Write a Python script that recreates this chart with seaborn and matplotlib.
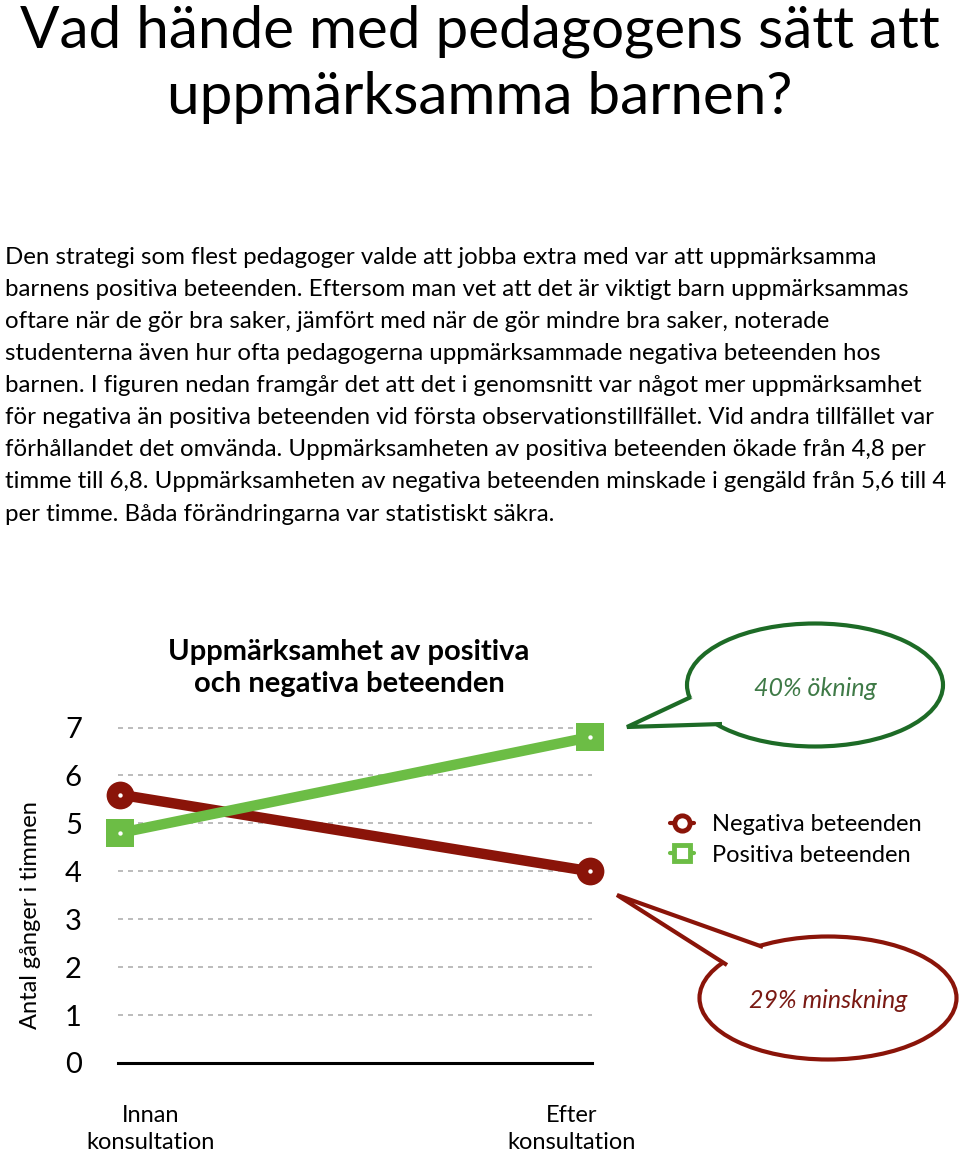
import numpy as np
import pandas as pd
import seaborn as sns
import matplotlib.pyplot as plt
from matplotlib.lines import Line2D
from matplotlib.patches import Ellipse, Polygon
from matplotlib.transforms import ScaledTranslation

# data
tillfallen = ["Innan\nkonsultation", "Efter\nkonsultation"]
negativa = [5.6, 4.0]
positiva = [4.8, 6.8]
serier = ["Negativa beteenden", "Positiva beteenden"]
y_ticks = [0, 1, 2, 3, 4, 5, 6, 7]

RED = "#8a1409"
GREEN = "#6cbd45"
DARKGREEN = "#1d6b26"

sns.set_style("white")
plt.rcParams['font.family'] = ['Lato', 'DejaVu Sans']
plt.rcParams['text.color'] = "black"
plt.rcParams['xtick.color'] = "black"
plt.rcParams['ytick.color'] = "black"
plt.rcParams['axes.labelcolor'] = "black"

df = pd.DataFrame({
    "x": [0, 1, 0, 1],
    "value": negativa + positiva,
    "serie": [serier[0]] * 2 + [serier[1]] * 2,
})

fig = plt.figure(figsize=(9.6, 11.55), dpi=100)
ax = fig.add_axes([0.1229, 0.0797, 0.4938, 0.2987])

for y in y_ticks[1:]:
    ax.axhline(y, color="#b0b0b0", lw=1.2, ls=(0, (3, 3)), zorder=0)

sns.lineplot(data=df, x="x", y="value", hue="serie", style="serie",
             palette={serier[0]: RED, serier[1]: GREEN},
             markers={serier[0]: "o", serier[1]: "s"}, dashes=False,
             linewidth=7.5, markersize=20, markeredgewidth=0,
             legend=False, ax=ax, clip_on=False, zorder=3)
sns.scatterplot(x=df["x"], y=df["value"], color="white", s=10,
                linewidth=0, ax=ax, zorder=5, clip_on=False, legend=False)

ax.set_xlim(-0.004, 1.004)
ax.set_ylim(0, 7.2)
ax.set_yticks(y_ticks)
ax.set_yticklabels([str(t) for t in y_ticks], fontsize=21)
ax.set_xticks([0, 1])
ax.set_xticklabels(tillfallen, fontsize=17, linespacing=1.35)
ax.tick_params(axis="both", length=0)
ax.tick_params(axis="y", pad=26)
ax.tick_params(axis="x", pad=30)
for lab, dx in zip(ax.get_xticklabels(), [0.31, -0.19]):
    lab.set_transform(lab.get_transform() + ScaledTranslation(dx, 0, fig.dpi_scale_trans))
for s in ["top", "right", "left"]:
    ax.spines[s].set_visible(False)
ax.spines["bottom"].set_linewidth(2.2)
ax.spines["bottom"].set_color("black")
ax.set_xlabel("")
ax.set_ylabel("Antal gånger i timmen", fontsize=17)
ax.yaxis.set_label_coords(-0.163, 0.43)

# chart title
fig.text(349 / 960, 1 - 668 / 1155, "Uppmärksamhet av positiva\noch negativa beteenden",
         ha="center", va="center", fontsize=21, fontweight="bold", linespacing=1.25)

# page title and paragraph
fig.text(0.5, 1 - 64 / 1155, "Vad hände med pedagogens sätt att\nuppmärksamma barnen?",
         ha="center", va="center", fontsize=42, linespacing=1.3)

paragraf = [
    "Den strategi som flest pedagoger valde att jobba extra med var att uppmärksamma",
    "barnens positiva beteenden. Eftersom man vet att det är viktigt barn uppmärksammas",
    "oftare när de gör bra saker, jämfört med när de gör mindre bra saker, noterade",
    "studenterna även hur ofta pedagogerna uppmärksammade negativa beteenden hos",
    "barnen. I figuren nedan framgår det att det i genomsnitt var något mer uppmärksamhet",
    "för negativa än positiva beteenden vid första observationstillfället. Vid andra tillfället var",
    "förhållandet det omvända. Uppmärksamheten av positiva beteenden ökade från 4,8 per",
    "timme till 6,8. Uppmärksamheten av negativa beteenden minskade i gengäld från 5,6 till 4",
    "per timme. Båda förändringarna var statistiskt säkra.",
]
for i, rad in enumerate(paragraf):
    fig.text(5 / 960, 1 - (258 + i * 32) / 1155, rad, ha="left", va="center",
             fontsize=17.3)

# legend
handles = [
    Line2D([], [], color=RED, lw=3, marker="o", markersize=11,
           markerfacecolor="white", markeredgecolor=RED, markeredgewidth=3.5),
    Line2D([], [], color=GREEN, lw=3, marker="s", markersize=11,
           markerfacecolor="white", markeredgecolor=GREEN, markeredgewidth=3.5),
]
fig.legend(handles, serier, loc="center left", bbox_to_anchor=(670 / 960, 1 - 840 / 1155),
           frameon=False, handlelength=1.0, handletextpad=0.8, borderpad=0,
           borderaxespad=0, labelspacing=0.4, prop={"size": 17})

# speech bubbles
def px(x, y):
    return (x / 960, 1 - y / 1155)

def bubble(cx, cy, w, h, tail, color, tcolor, text):
    fig.patches.append(Ellipse(px(cx, cy), w / 960, h / 1155, transform=fig.transFigure,
                               facecolor="white", edgecolor=color, lw=3, zorder=1))
    fig.patches.append(Polygon([px(*p) for p in tail], closed=False, transform=fig.transFigure,
                               facecolor="white", edgecolor=color, lw=3, zorder=2,
                               joinstyle="miter"))
    fig.text(*px(cx, cy + 3), text, ha="center", va="center", fontsize=18,
             style="italic", color=tcolor, zorder=3)

bubble(815, 685, 256, 123, [(691, 697), (627, 727), (722, 724)], DARKGREEN, "#3f7a47", "40% ökning")
bubble(828, 998, 257, 123, [(763, 947), (617, 895), (727, 965)], RED, "#7a1a14", "29% minskning")

fig.savefig("out.png", dpi=100)
